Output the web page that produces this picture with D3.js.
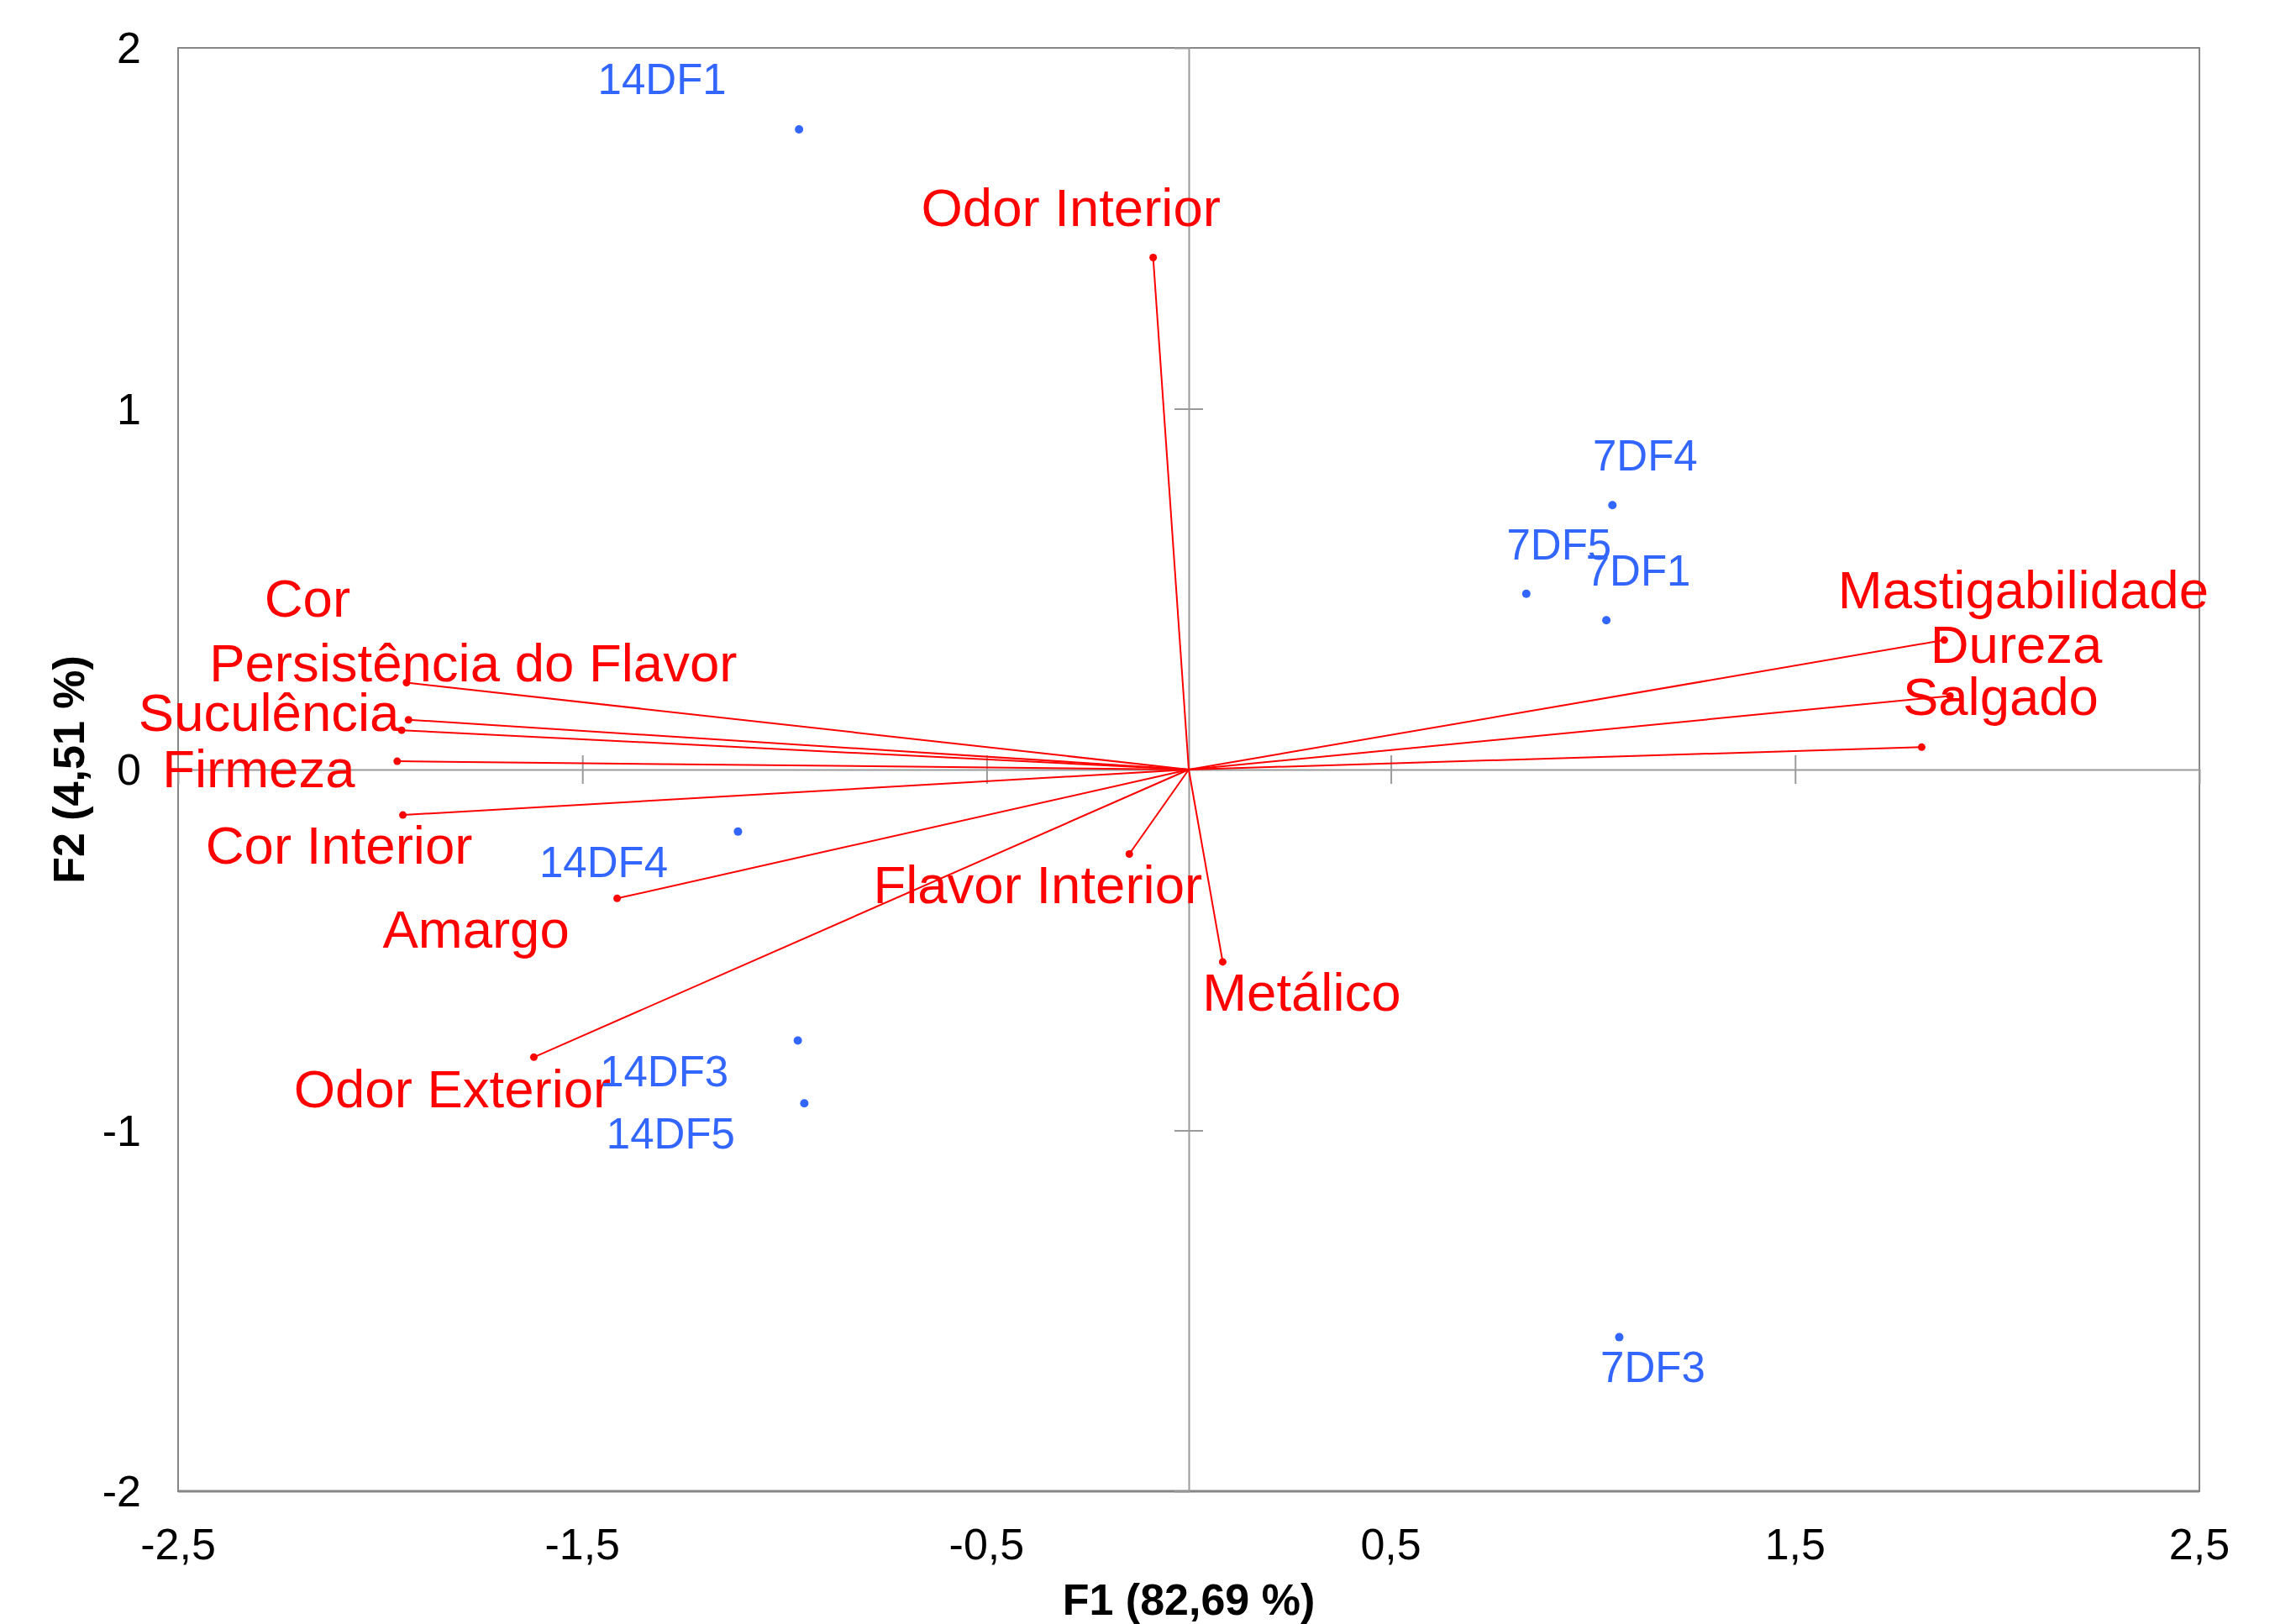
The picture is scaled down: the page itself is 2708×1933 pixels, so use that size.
<!DOCTYPE html>
<html>
<head>
<meta charset="utf-8">
<script src="https://cdn.jsdelivr.net/npm/d3@7"></script>
<style>
  body { margin: 0; background: #fff; }
  text { font-family: "Liberation Sans", Arial, sans-serif; }
</style>
</head>
<body>
<div id="wrapper"></div>
<script>
// observations (blue points)
const obsNames = ['14DF1', '7DF4', '7DF5', '7DF1', '14DF4', '14DF3', '14DF5', '7DF3']
const obsF1 = [-0.964, 1.048, 0.835, 1.033, -1.115, -0.967, -0.951, 1.065]
const obsF2 = [1.774, 0.733, 0.487, 0.414, -0.172, -0.751, -0.925, -1.573]

// variables (red vectors)
const varNames = ['Odor Interior', 'Mastigabilidade', 'Dureza', 'Salgado', 'Cor',
  'Persistência do Flavor', 'Suculência', 'Firmeza', 'Cor Interior', 'Amargo',
  'Odor Exterior', 'Flavor Interior', 'Metálico']
const varF1 = [-0.088, 1.869, 1.883, 1.813, -1.935, -1.930, -1.947, -1.958, -1.944, -1.414, -1.620, -0.147, 0.084]
const varF2 = [1.419, 0.359, 0.204, 0.062, 0.241, 0.138, 0.109, 0.023, -0.126, -0.357, -0.797, -0.234, -0.533]

// axis ticks
const xTicks = [-2.5, -1.5, -0.5, 0.5, 1.5, 2.5]
const yTicks = [-2, -1, 0, 1, 2]
const xTitle = 'F1 (82,69 %)'
const yTitle = 'F2 (4,51 %)'

// label nudges in px (label centre / baseline relative to the point)
const obsLabelNudge = [[-163, -42], [39, -41], [39, -41], [38, -41], [-160, 54], [-159, 54], [-159, 54], [40, 53]]
const varLabelNudge = [[-98, -38], [94, -38], [79, -39], [94, -38], [-118, -78], [77, -46],
  [-158, 1], [-165, 31], [-76, 58], [-168, 59], [-97, 60], [-109, 58], [94, 58]]

const observations = obsNames.map((name, i) => ({ name, f1: obsF1[i], f2: obsF2[i], nudge: obsLabelNudge[i] }))
const variables = varNames.map((name, i) => ({ name, f1: varF1[i], f2: varF2[i], nudge: varLabelNudge[i] }))

const dimensions = {
  width: 2708,
  height: 1933,
  margin: { top: 57, right: 90, bottom: 158, left: 212 }
}
dimensions.boundedWidth = dimensions.width - dimensions.margin.left - dimensions.margin.right
dimensions.boundedHeight = dimensions.height - dimensions.margin.top - dimensions.margin.bottom

const blue = '#3366ff'
const red = '#ff0000'
const grey = '#868686'

const svg = d3.select('#wrapper')
  .append('svg')
    .attr('width', dimensions.width)
    .attr('height', dimensions.height)

const bounds = svg.append('g')
  .attr('transform', `translate(${dimensions.margin.left},${dimensions.margin.top})`)

const xScale = d3.scaleLinear()
  .domain([-2.5, 2.5])
  .range([0, dimensions.boundedWidth])

const yScale = d3.scaleLinear()
  .domain([-2, 2])
  .range([dimensions.boundedHeight, 0])

const fmt = d => String(d).replace('.', ',')

// frame
bounds.append('rect')
  .attr('width', dimensions.boundedWidth)
  .attr('height', dimensions.boundedHeight)
  .attr('fill', 'none')
  .attr('stroke', grey)
  .attr('stroke-width', 2)
bounds.append('line')
  .attr('x1', 0).attr('x2', dimensions.boundedWidth)
  .attr('y1', dimensions.boundedHeight).attr('y2', dimensions.boundedHeight)
  .attr('stroke', grey).attr('stroke-width', 3)

// zero axes with tick marks
const xZero = bounds.append('g')
  .attr('transform', `translate(0,${yScale(0)})`)
  .call(d3.axisBottom(xScale).tickValues([-1.5, -0.5, 0.5, 1.5]).tickSize(17).tickFormat(''))
xZero.selectAll('.tick line').clone().attr('y2', -17)

const yZero = bounds.append('g')
  .attr('transform', `translate(${xScale(0)},0)`)
  .call(d3.axisLeft(yScale).tickValues([-1, 1]).tickSize(17).tickFormat(''))
yZero.selectAll('.tick line').clone().attr('x2', 17)

bounds.selectAll('.domain, .tick line')
  .attr('stroke', '#9a9a9a')
  .attr('stroke-width', 2)

// tick labels
bounds.append('g')
  .selectAll('text')
  .data(xTicks)
  .join('text')
    .attr('x', d => xScale(d))
    .attr('y', dimensions.boundedHeight + 81)
    .attr('text-anchor', 'middle')
    .attr('font-size', 52)
    .text(fmt)

bounds.append('g')
  .selectAll('text')
  .data(yTicks)
  .join('text')
    .attr('x', -44)
    .attr('y', d => yScale(d))
    .attr('dy', '0.35em')
    .attr('text-anchor', 'end')
    .attr('font-size', 52)
    .text(fmt)

// axis titles
bounds.append('text')
  .attr('x', xScale(0))
  .attr('y', dimensions.boundedHeight + 147)
  .attr('text-anchor', 'middle')
  .attr('font-size', 52)
  .attr('font-weight', 'bold')
  .text(xTitle)

bounds.append('text')
  .attr('transform', `translate(${100 - dimensions.margin.left},${yScale(0)}) rotate(-90)`)
  .attr('text-anchor', 'middle')
  .attr('font-size', 52)
  .attr('font-weight', 'bold')
  .text(yTitle)

// variable vectors
const varGroup = bounds.append('g')

varGroup.selectAll('line')
  .data(variables)
  .join('line')
    .attr('x1', xScale(0))
    .attr('y1', yScale(0))
    .attr('x2', d => xScale(d.f1))
    .attr('y2', d => yScale(d.f2))
    .attr('stroke', red)
    .attr('stroke-width', 2)

varGroup.selectAll('circle')
  .data(variables)
  .join('circle')
    .attr('cx', d => xScale(d.f1))
    .attr('cy', d => yScale(d.f2))
    .attr('r', 4.5)
    .attr('fill', red)

varGroup.selectAll('text')
  .data(variables)
  .join('text')
    .attr('x', d => xScale(d.f1) + d.nudge[0])
    .attr('y', d => yScale(d.f2) + d.nudge[1])
    .attr('text-anchor', 'middle')
    .attr('font-size', 63.5)
    .attr('fill', red)
    .text(d => d.name)

// observations
const obsGroup = bounds.append('g')

obsGroup.selectAll('circle')
  .data(observations)
  .join('circle')
    .attr('cx', d => xScale(d.f1))
    .attr('cy', d => yScale(d.f2))
    .attr('r', 5)
    .attr('fill', blue)

obsGroup.selectAll('text')
  .data(observations)
  .join('text')
    .attr('x', d => xScale(d.f1) + d.nudge[0])
    .attr('y', d => yScale(d.f2) + d.nudge[1])
    .attr('text-anchor', 'middle')
    .attr('font-size', 51)
    .attr('fill', blue)
    .text(d => d.name)
</script>
</body>
</html>
